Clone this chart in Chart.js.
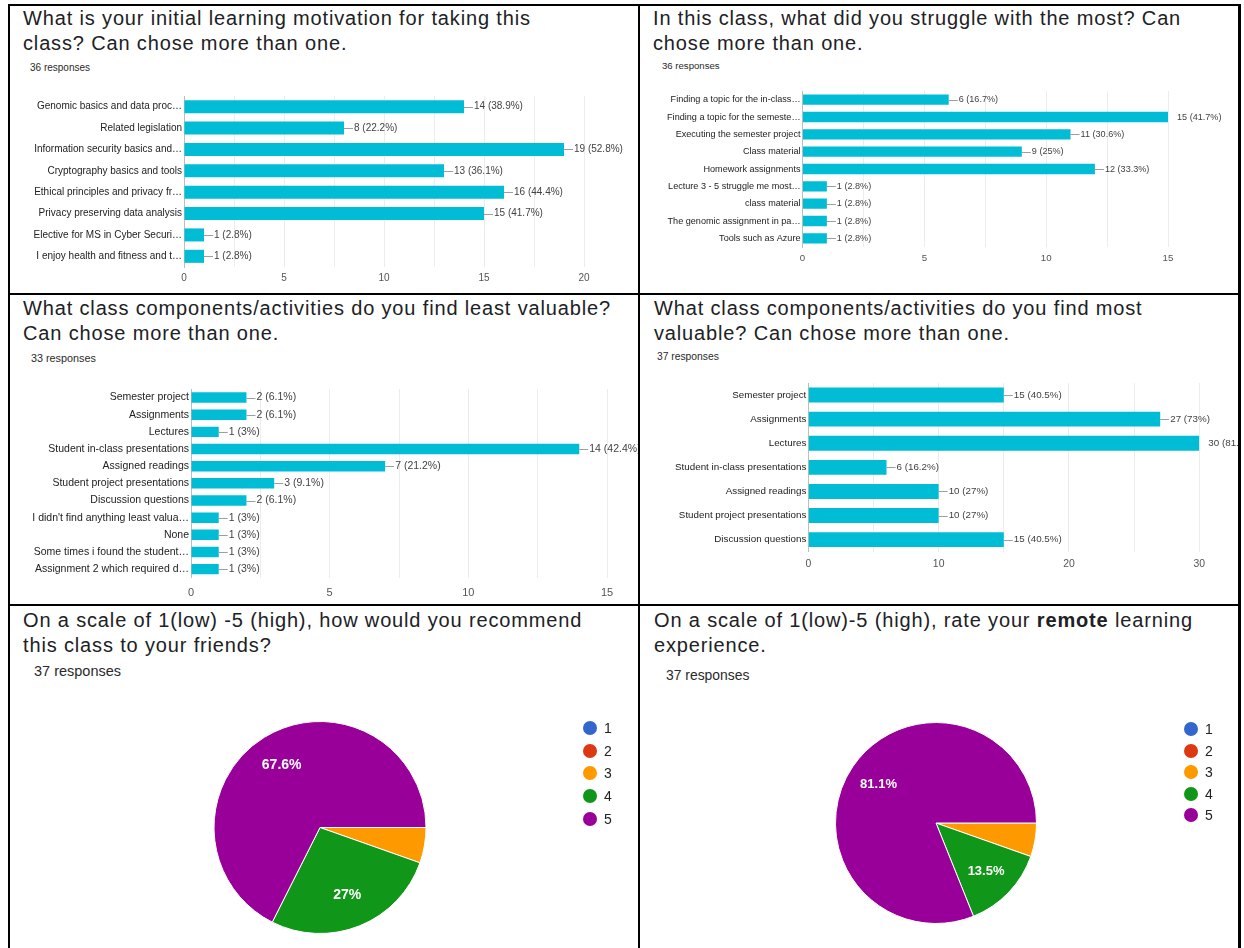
<!DOCTYPE html>
<html lang="en">
<head>
<meta charset="UTF-8">
<title>Class survey results</title>
<script src="https://cdn.jsdelivr.net/npm/chart.js"></script>
<style>
  body { margin: 0; width: 1244px; height: 948px; position: relative; overflow: hidden; background: #fff;
         font-family: "Liberation Sans", Arial, sans-serif; }
  .line { position: absolute; background: #000; }
  .title { position: absolute; font-size: 20px; line-height: 24.5px; color: #202124; letter-spacing: 0.85px; white-space: nowrap; }
  .resp { position: absolute; color: #2a2a2a; white-space: nowrap; line-height: 14px; }
  canvas { position: absolute; }
  .legend { position: absolute; font-size: 14px; color: #222; }
  .legend div { position: absolute; left: 0; white-space: nowrap; line-height: 14px; }
  .legend span { position: absolute; left: 0; top: 0; width: 14px; height: 14px; border-radius: 50%; }
</style>
</head>
<body>
  <!-- table borders -->
  <div class="line" style="left:8px;top:4px;width:2px;height:944px"></div>
  <div class="line" style="left:8px;top:4px;width:1233px;height:2px"></div>
  <div class="line" style="left:1238px;top:4px;width:3px;height:944px"></div>
  <div class="line" style="left:638px;top:4px;width:2px;height:944px"></div>
  <div class="line" style="left:8px;top:293px;width:1233px;height:2px"></div>
  <div class="line" style="left:8px;top:604px;width:1233px;height:2px"></div>

  <div class="title" style="left:23px;top:6px">What is your initial learning motivation for taking this<br>class? Can chose more than one.</div>
  <div class="resp" style="left:30px;top:61px;font-size:10px">36 responses</div>
  <canvas id="motivation" width="626" height="194" style="left:12px;top:96px"></canvas>

  <div class="title" style="left:653px;top:6px">In this class, what did you struggle with the most? Can<br>chose more than one.</div>
  <div class="resp" style="left:662px;top:59px;font-size:9.6px">36 responses</div>
  <canvas id="struggle" width="596" height="180" style="left:642px;top:91px"></canvas>

  <div class="title" style="left:23px;top:296px">What class components/activities do you find least valuable?<br>Can chose more than one.</div>
  <div class="resp" style="left:31px;top:351px;font-size:10.8px">33 responses</div>
  <canvas id="least" width="626" height="215" style="left:12px;top:389px"></canvas>

  <div class="title" style="left:654px;top:296px">What class components/activities do you find most<br>valuable? Can chose more than one.</div>
  <div class="resp" style="left:657px;top:350px;font-size:10.3px">37 responses</div>
  <canvas id="most" width="596" height="221" style="left:642px;top:383px"></canvas>

  <div class="title" style="left:23px;top:608px">On a scale of 1(low) -5 (high), how would you recommend<br>this class to your friends?</div>
  <div class="resp" style="left:34px;top:664px;font-size:14.5px">37 responses</div>
  <canvas id="recommend" width="626" height="258" style="left:12px;top:690px"></canvas>
  <div class="legend" id="recommendLegend" style="left:583px;top:721px"></div>

  <div class="title" style="left:654px;top:608px">On a scale of 1(low)-5 (high), rate your <b>remote</b> learning<br>experience.</div>
  <div class="resp" style="left:666px;top:668px;font-size:13.9px">37 responses</div>
  <canvas id="remote" width="596" height="258" style="left:642px;top:690px"></canvas>
  <div class="legend" id="remoteLegend" style="left:1184px;top:722px"></div>

<script>
  // --- data ---
  const motivationLabels = ["Genomic basics and data proc\u2026", "Related legislation", "Information security basics and\u2026",
    "Cryptography basics and tools", "Ethical principles and privacy fr\u2026", "Privacy preserving data analysis",
    "Elective for MS in Cyber Securi\u2026", "I enjoy health and fitness and t\u2026"];
  const motivationCounts = [14, 8, 19, 13, 16, 15, 1, 1];
  const motivationTicks = [0, 5, 10, 15, 20];

  const struggleLabels = ["Finding a topic for the in-class\u2026", "Finding a topic for the semeste\u2026", "Executing the semester project",
    "Class material", "Homework assignments", "Lecture 3 - 5 struggle me most\u2026", "class material",
    "The genomic assignment in pa\u2026", "Tools such as Azure"];
  const struggleCounts = [6, 15, 11, 9, 12, 1, 1, 1, 1];
  const struggleTicks = [0, 5, 10, 15];

  const leastLabels = ["Semester project", "Assignments", "Lectures", "Student in-class presentations", "Assigned readings",
    "Student project presentations", "Discussion questions", "I didn't find anything least valua\u2026", "None",
    "Some times i found the student\u2026", "Assignment 2 which required d\u2026"];
  const leastCounts = [2, 2, 1, 14, 7, 3, 2, 1, 1, 1, 1];
  const leastTicks = [0, 5, 10, 15];

  const mostLabels = ["Semester project", "Assignments", "Lectures", "Student in-class presentations", "Assigned readings",
    "Student project presentations", "Discussion questions"];
  const mostCounts = [15, 27, 30, 6, 10, 10, 15];
  const mostTicks = [0, 10, 20, 30];

  const ratingLabels = ["1", "2", "3", "4", "5"];
  const recommendCounts = [0, 0, 2, 10, 25];
  const remoteCounts = [0, 0, 2, 5, 30];
  const ratingColors = ["#3366cc", "#dc3912", "#ff9900", "#109618", "#990099"];

  const BAR = "#00bcd4";

  function pct(v, total) {
    return parseFloat((v / total * 100).toFixed(1));
  }

  // value labels to the right of each bar
  const barValueLabels = {
    id: "barValueLabels",
    afterDatasetsDraw(chart, args, opts) {
      const ctx = chart.ctx;
      const data = chart.data.datasets[0].data;
      const xMax = chart.scales.x.max;
      ctx.save();
      ctx.font = opts.size + "px 'Liberation Sans', Arial, sans-serif";
      ctx.fillStyle = "#424242";
      ctx.strokeStyle = "#9e9e9e";
      ctx.lineWidth = 1;
      ctx.textBaseline = "middle";
      chart.getDatasetMeta(0).data.forEach((bar, i) => {
        const text = data[i] + " (" + pct(data[i], opts.total) + "%)";
        if (data[i] >= xMax) {
          ctx.fillText(text, bar.x + 9, bar.y);
        } else {
          ctx.beginPath();
          ctx.moveTo(bar.x, Math.round(bar.y) + 0.5);
          ctx.lineTo(bar.x + 9, Math.round(bar.y) + 0.5);
          ctx.stroke();
          ctx.fillText(text, bar.x + 10, bar.y);
        }
      });
      ctx.restore();
    }
  };

  function makeBar(id, labels, counts, total, ticks, o) {
    const step = (ticks[1] - ticks[0]) / 2;
    new Chart(document.getElementById(id), {
      type: "bar",
      data: {
        labels: labels,
        datasets: [{ data: counts, backgroundColor: BAR, borderWidth: 0,
                     categoryPercentage: 1, barPercentage: o.bar }]
      },
      options: {
        indexAxis: "y",
        responsive: false,
        animation: false,
        devicePixelRatio: 1,
        layout: { padding: { left: 0, right: o.right, top: 0, bottom: 0 } },
        plugins: { legend: { display: false }, tooltip: { enabled: false },
                   barValueLabels: { total: total, size: o.font } },
        scales: {
          x: {
            min: ticks[0], max: ticks[ticks.length - 1],
            afterFit: s => { s.height = o.xh; },
            grid: { color: "#ececec", drawTicks: false },
            border: { display: false },
            ticks: { stepSize: step, padding: o.tickPad, color: "#555", maxRotation: 0, autoSkip: false,
                     font: { size: o.tickFont, family: "'Liberation Sans', Arial, sans-serif" },
                     callback: v => ticks.includes(v) ? v : "" }
          },
          y: {
            afterFit: s => { s.width = o.yw; s.paddingTop = 0; s.paddingBottom = 0; },
            grid: { display: false, drawTicks: false },
            border: { display: true, color: "#bdbdbd" },
            ticks: { padding: 2, color: "#222", autoSkip: false,
                     font: { size: o.font, family: "'Liberation Sans', Arial, sans-serif" } }
          }
        }
      },
      plugins: [barValueLabels]
    });
  }

  makeBar("motivation", motivationLabels, motivationCounts, 36, motivationTicks,
    { yw: 172, xh: 23, right: 54, bar: 0.61, font: 10, tickFont: 10, tickPad: 5 });
  makeBar("struggle", struggleLabels, struggleCounts, 36, struggleTicks,
    { yw: 160.5, xh: 24, right: 70, bar: 0.6, font: 9.1, tickFont: 9.7, tickPad: 6 });
  makeBar("least", leastLabels, leastCounts, 33, leastTicks,
    { yw: 179, xh: 26.3, right: 31, bar: 0.61, font: 10.5, tickFont: 11, tickPad: 9 });
  makeBar("most", mostLabels, mostCounts, 37, mostTicks,
    { yw: 166.3, xh: 52.3, right: 38.7, bar: 0.62, font: 9.8, tickFont: 10.4, tickPad: 6 });

  // percentage text inside big slices
  const slicePercent = {
    id: "slicePercent",
    afterDatasetsDraw(chart, args, opts) {
      const ctx = chart.ctx;
      const data = chart.data.datasets[0].data;
      const total = data.reduce((a, b) => a + b, 0);
      ctx.save();
      ctx.font = "bold " + opts.size + "px 'Liberation Sans', Arial, sans-serif";
      ctx.fillStyle = "#fff";
      ctx.textAlign = "center";
      ctx.textBaseline = "middle";
      chart.getDatasetMeta(0).data.forEach((arc, i) => {
        const p = pct(data[i], total);
        if (p < 10) return;
        const mid = (arc.startAngle + arc.endAngle) / 2;
        const r = arc.outerRadius * opts.at;
        ctx.fillText(p + "%", arc.x + Math.cos(mid) * r, arc.y + Math.sin(mid) * r);
      });
      ctx.restore();
    }
  };

  function makePie(id, counts, pad, labelSize, legendId, gap) {
    new Chart(document.getElementById(id), {
      type: "pie",
      data: {
        labels: ratingLabels,
        datasets: [{ data: counts, backgroundColor: ratingColors, borderColor: "#fff", borderWidth: 1 }]
      },
      options: {
        responsive: false,
        animation: false,
        devicePixelRatio: 1,
        rotation: 90,
        layout: { padding: pad },
        plugins: { legend: { display: false }, tooltip: { enabled: false },
                   slicePercent: { size: labelSize, at: 0.69 } }
      },
      plugins: [slicePercent]
    });
    const box = document.getElementById(legendId);
    ratingLabels.forEach((lab, i) => {
      const row = document.createElement("div");
      row.style.top = (i * gap) + "px";
      row.innerHTML = '<span style="background:' + ratingColors[i] + '"></span><b style="font-weight:normal;margin-left:21px">' + lab + "</b>";
      box.appendChild(row);
    });
  }

  makePie("recommend", recommendCounts, { left: 201, right: 211, top: 31, bottom: 14 }, 14, "recommendLegend", 22.7);
  makePie("remote", remoteCounts, { left: 193, right: 201, top: 32, bottom: 24 }, 13, "remoteLegend", 21.5);
</script>
</body>
</html>
